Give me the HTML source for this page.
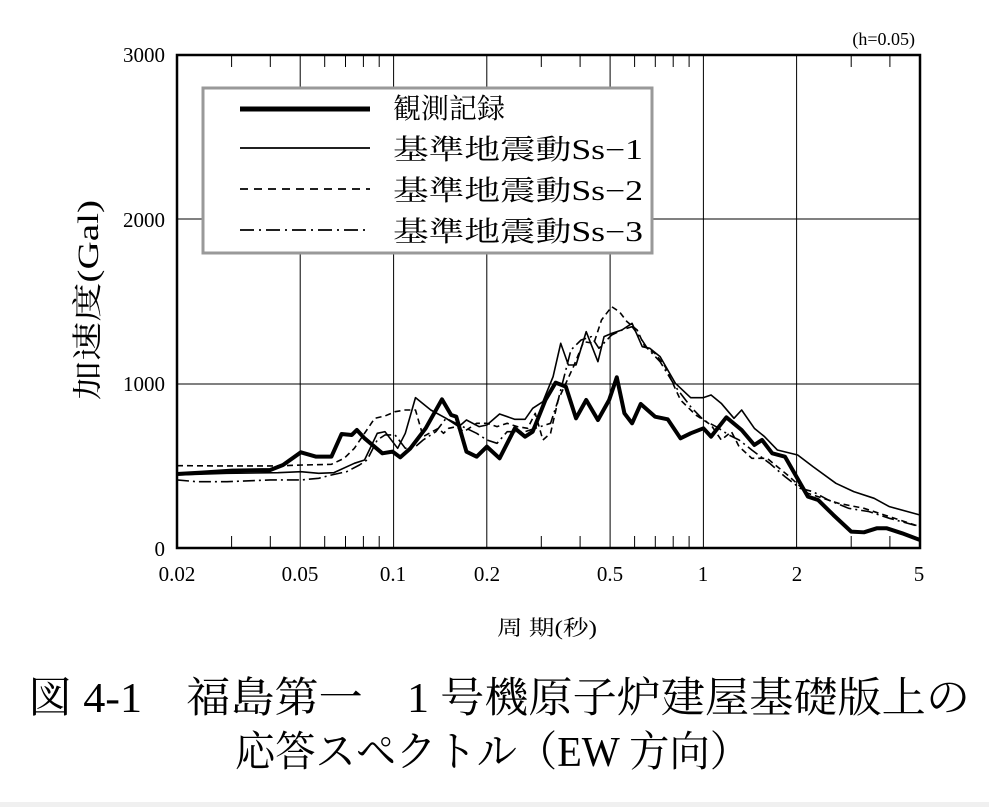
<!DOCTYPE html>
<html><head><meta charset="utf-8"><style>
html,body{margin:0;padding:0;background:#fff;}
svg{display:block;}
text{font-family:"Liberation Serif","Noto Serif CJK SC",serif;fill:#000;}
</style></head><body>
<svg width="989" height="807" viewBox="0 0 989 807" xmlns="http://www.w3.org/2000/svg">
<rect width="989" height="807" fill="#fff"/>
<rect x="0" y="802" width="989" height="5" fill="#f0f0f0"/>
<g stroke="#000" stroke-width="1">
<line x1="300.2" y1="55" x2="300.2" y2="548"/>
<line x1="393.6" y1="55" x2="393.6" y2="548"/>
<line x1="486.8" y1="55" x2="486.8" y2="548"/>
<line x1="610.1" y1="55" x2="610.1" y2="548"/>
<line x1="703.4" y1="55" x2="703.4" y2="548"/>
<line x1="796.6" y1="55" x2="796.6" y2="548"/>
<line x1="177" y1="384" x2="920" y2="384"/>
<line x1="177" y1="219" x2="920" y2="219"/>
</g>
<g stroke="#000" stroke-width="1">
<path d="M231.6 548v-12M270.3 548v-12M324.7 548v-12M345.5 548v-12M363.4 548v-12M379.2 548v-12M541.3 548v-12M580.1 548v-12M634.6 548v-12M655.3 548v-12M673.2 548v-12M689.1 548v-12M851.2 548v-12M889.9 548v-12
M231.6 55v12M270.3 55v12M324.7 55v12M345.5 55v12M363.4 55v12M379.2 55v12M541.3 55v12M580.1 55v12M634.6 55v12M655.3 55v12M673.2 55v12M689.1 55v12M851.2 55v12M889.9 55v12"/>
</g>
<rect x="177" y="55" width="743" height="493" fill="none" stroke="#000" stroke-width="2.5"/>
<rect x="203" y="88" width="449" height="165" fill="#fff" stroke="#999" stroke-width="3"/>
<line x1="240" y1="109" x2="370" y2="109" stroke="#000" stroke-width="5"/>
<line x1="240" y1="148" x2="370" y2="148" stroke="#000" stroke-width="1.8"/>
<line x1="240" y1="189" x2="370" y2="189" stroke="#000" stroke-width="1.8" stroke-dasharray="8,6"/>
<line x1="240" y1="230" x2="370" y2="230" stroke="#000" stroke-width="1.8" stroke-dasharray="14,5,2,5"/>
<g font-size="28">
<text x="393" y="118">観測記録</text>
<text x="393" y="159" textLength="250" lengthAdjust="spacingAndGlyphs">基準地震動Ss−1</text>
<text x="393" y="200" textLength="250" lengthAdjust="spacingAndGlyphs">基準地震動Ss−2</text>
<text x="393" y="241" textLength="250" lengthAdjust="spacingAndGlyphs">基準地震動Ss−3</text>
</g>
<g fill="none" stroke="#000" stroke-linejoin="round" transform="matrix(0.5096,0,0,0.3333,150.5,300)">
<polyline stroke-width="1.6" vector-effect="non-scaling-stroke" points="52,525 150,520 250,518 295,515 330,520 360,518 400,490 420,480 445,400 460,395 485,445 500,400 520,293 550,330 580,355 605,380 620,360 645,380 660,375 685,342 715,358 735,358 750,325 770,305 790,230 805,130 820,195 835,195 855,95 878,185 890,110 905,100 925,90 945,70 965,140 980,145 1000,170 1030,250 1060,293 1085,293 1100,285 1120,310 1145,355 1160,330 1185,385 1205,410 1230,450 1270,465 1300,500 1345,550 1380,575 1420,595 1450,620 1510,645"/>
<polyline stroke-width="1.6" stroke-dasharray="6,4" vector-effect="non-scaling-stroke" points="52,497 150,498 240,498 300,495 355,493 380,475 400,445 420,400 440,355 460,348 480,335 500,330 520,330 535,410 565,385 575,400 585,385 600,380 615,395 640,370 660,370 680,380 700,370 720,380 740,385 755,340 770,420 785,400 800,300 830,200 850,125 870,130 885,60 905,20 920,35 935,65 955,90 970,140 990,160 1010,200 1040,300 1070,345 1100,375 1120,420 1140,395 1155,440 1180,475 1210,475 1250,525 1290,580 1320,595 1350,610 1400,625 1440,645 1510,680"/>
<polyline stroke-width="1.6" stroke-dasharray="12,4,2,4" vector-effect="non-scaling-stroke" points="52,540 90,545 150,545 235,540 295,540 330,535 355,525 385,515 410,495 425,480 445,420 460,405 480,405 500,445 520,440 535,420 560,395 580,355 610,378 640,400 660,420 680,430 700,395 735,395 755,385 785,370 800,300 825,150 845,120 865,110 880,145 905,105 925,90 945,80 960,110 975,145 1000,185 1030,260 1060,320 1085,360 1110,380 1135,405 1155,420 1180,450 1215,490 1245,530 1275,565 1300,575 1330,600 1370,625 1410,635 1450,655 1510,680"/>
<polyline stroke-width="4" vector-effect="non-scaling-stroke" points="52,522 100,518 160,512 235,510 260,495 295,457 325,470 355,470 375,402 395,405 405,390 420,415 455,460 475,455 490,472 510,445 540,385 572,298 590,345 600,350 620,455 640,470 660,440 685,475 715,385 735,410 750,395 775,300 795,248 815,260 835,355 855,300 878,360 900,300 915,232 930,340 945,370 962,312 990,350 1015,358 1040,415 1060,400 1085,385 1100,410 1130,352 1160,390 1185,435 1200,420 1220,460 1245,470 1290,590 1310,600 1340,645 1375,695 1400,697 1425,685 1445,685 1475,700 1510,720"/>
</g>
<g font-size="21" text-anchor="end">
<text x="165" y="62">3000</text>
<text x="165" y="227">2000</text>
<text x="165" y="391">1000</text>
<text x="165" y="556">0</text>
</g>
<g font-size="21" text-anchor="middle">
<text x="177" y="581">0.02</text>
<text x="300" y="581">0.05</text>
<text x="393" y="581">0.1</text>
<text x="487" y="581">0.2</text>
<text x="610" y="581">0.5</text>
<text x="703" y="581">1</text>
<text x="797" y="581">2</text>
<text x="919" y="581">5</text>
</g>
<text x="915" y="45" font-size="18" text-anchor="end">(h=0.05)</text>
<text transform="translate(98,300) rotate(-90)" font-size="30" text-anchor="middle" textLength="200" lengthAdjust="spacingAndGlyphs">加速度(Gal)</text>
<text x="497" y="635" font-size="21" textLength="100" lengthAdjust="spacingAndGlyphs">周 期(秒)</text>
<text x="28" y="712" font-size="42" textLength="942" lengthAdjust="spacingAndGlyphs">図 4-1　福島第一　1 号機原子炉建屋基礎版上の</text>
<text x="235" y="766" font-size="42" textLength="515" lengthAdjust="spacingAndGlyphs">応答スペクトル（EW 方向）</text>
</svg>
</body></html>
